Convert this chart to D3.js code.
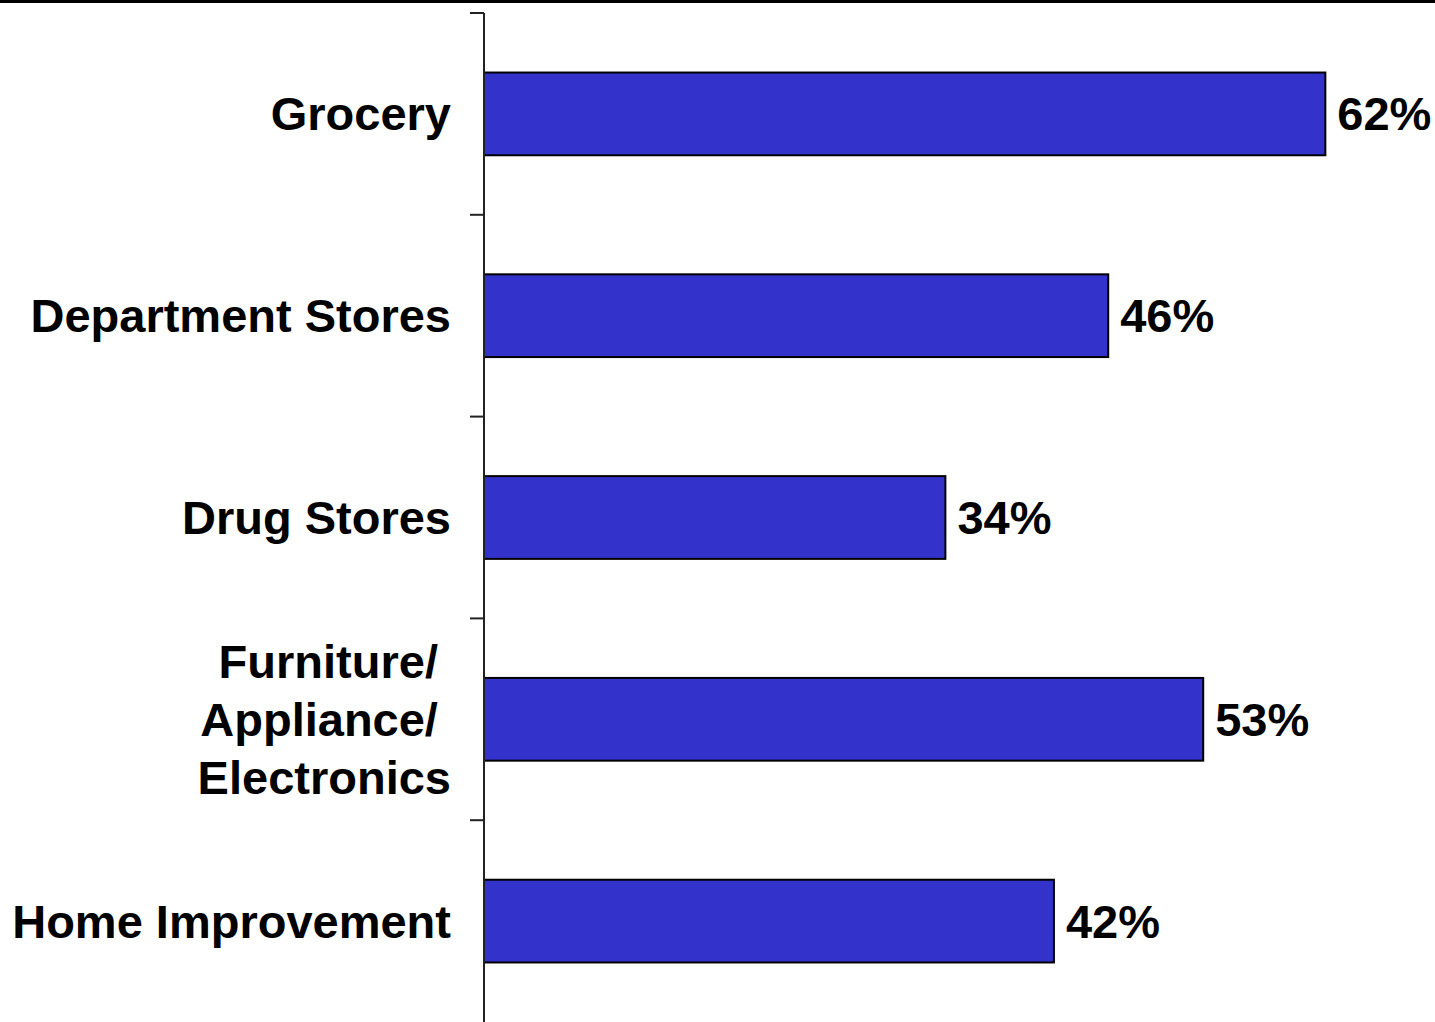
<!DOCTYPE html>
<html>
<head>
<meta charset="utf-8">
<script src="https://cdn.jsdelivr.net/npm/d3@7"></script>
<style>
  html, body { margin: 0; padding: 0; background: #fff; }
  svg { display: block; }
  text { font-family: "Liberation Sans", Arial, sans-serif; font-weight: bold; fill: #000; }
</style>
</head>
<body>
<div id="chart"></div>
<script>
// chart data
const categories = ["Grocery", "Department Stores", "Drug Stores", "Furniture/Appliance/Electronics", "Home Improvement"];
const labelLines = [["Grocery"], ["Department Stores"], ["Drug Stores"], ["Furniture/ ", "Appliance/ ", "Electronics"], ["Home Improvement"]];
const values = [62, 46, 34, 53, 42];

let width = 1435, height = 1022;
let axisX = 484, plotTop = 13, plotBottom = 1022;

let svg = d3.select("#chart")
    .append("svg")
    .attr("width", width)
    .attr("height", height);

// top rule
svg.append("line")
    .attr("x1", 0).attr("x2", width)
    .attr("y1", 1.5).attr("y2", 1.5)
    .attr("stroke", "#000")
    .attr("stroke-width", 3);

let x = d3.scaleLinear().domain([0, 100]).range([axisX, axisX + 1357]);
let y = d3.scaleBand().domain(categories).range([plotTop, plotBottom]).paddingInner(0.59).paddingOuter(0.295);

// bars
svg.selectAll(".bar")
    .data(values)
    .enter()
    .append("rect")
    .attr("class", "bar")
    .attr("x", x(0))
    .attr("y", (d, i) => y(categories[i]))
    .attr("width", d => x(d) - x(0))
    .attr("height", y.bandwidth())
    .attr("fill", "#3333CC")
    .attr("stroke", "#000")
    .attr("stroke-width", 2);

// axis line + ticks at band boundaries
svg.append("line")
    .attr("x1", axisX).attr("x2", axisX)
    .attr("y1", plotTop).attr("y2", plotBottom)
    .attr("stroke", "#222")
    .attr("stroke-width", 2);

let tickYs = categories.map(c => y(c) - y.step() * y.paddingInner() / 2);
tickYs[0] = plotTop;
svg.selectAll(".tick")
    .data(tickYs)
    .enter()
    .append("line")
    .attr("x1", axisX - 14).attr("x2", axisX)
    .attr("y1", d => d).attr("y2", d => d)
    .attr("stroke", "#222")
    .attr("stroke-width", 2);

// category labels
let lineH = 58;
svg.selectAll(".cat")
    .data(labelLines)
    .enter()
    .append("text")
    .attr("class", "cat")
    .attr("text-anchor", "end")
    .attr("font-size", "47px")
    .style("white-space", "pre")
    .each(function (lines, i) {
        let cy = y(categories[i]) + y.bandwidth() / 2;
        let first = cy + 16.5 - (lines.length - 1) * lineH / 2;
        d3.select(this).selectAll("tspan")
            .data(lines)
            .enter()
            .append("tspan")
            .attr("x", 451)
            .attr("y", (l, j) => first + j * lineH)
            .text(l => l);
    });

// value labels
svg.selectAll(".val")
    .data(values)
    .enter()
    .append("text")
    .attr("class", "val")
    .attr("x", d => x(d) + 12)
    .attr("y", (d, i) => y(categories[i]) + y.bandwidth() / 2 + 16.5)
    .attr("font-size", "47px")
    .text(d => d + "%");
</script>
</body>
</html>
